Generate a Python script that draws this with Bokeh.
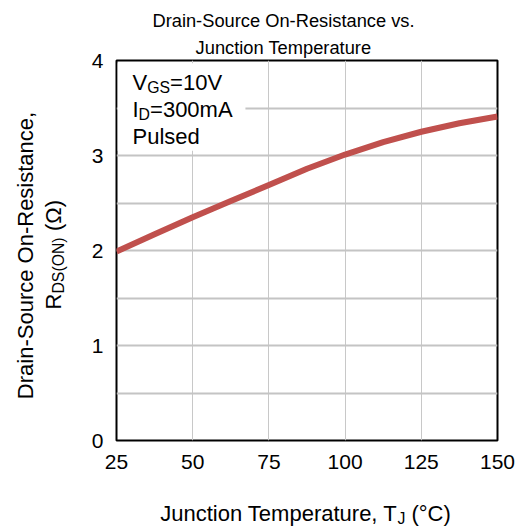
import math
from bokeh.plotting import figure
from bokeh.models import Range1d, FixedTicker, Label, BoxAnnotation
from bokeh.embed import file_html
from bokeh.resources import INLINE

# ---- data ----
temps = [25, 37.5, 50, 62.5, 75, 87.5, 100, 112.5, 125, 137.5, 150]
rds_on = [1.99, 2.17, 2.35, 2.52, 2.69, 2.86, 3.01, 3.14, 3.25, 3.34, 3.41]
x_ticks = [25, 50, 75, 100, 125, 150]
y_ticks = [0, 1, 2, 3, 4]
y_grid = [0.5, 1, 1.5, 2, 2.5, 3, 3.5]
x_grid = [50, 75, 100, 125]
title_lines = ["Drain-Source On-Resistance vs.", "Junction Temperature"]

FONT = "Liberation Sans"
W = {' ': 278, ',': 278, '-': 333, '.': 278, '(': 333, ')': 333, '=': 584, '°': 400,
     'Ω': 768, 'A': 667, 'C': 722, 'D': 722, 'G': 778, 'I': 278, 'J': 500, 'N': 722,
     'O': 778, 'P': 667, 'R': 722, 'S': 667, 'T': 611, 'V': 667, 'a': 556, 'c': 500,
     'd': 556, 'e': 556, 'i': 222, 'l': 222, 'm': 833, 'n': 556, 'o': 556, 'p': 556,
     'r': 333, 's': 500, 't': 278, 'u': 556, 'v': 500}
KERN = {('T', 'e'): -111}
SHIFT = 0.3  # empirical baseline correction (fraction of font size)
SUB = 0.72
DROP = 2.5


def tw(s, size):
    w = sum(W.get(c, 556) for c in s)
    w += sum(KERN.get((a, b), 0) for a, b in zip(s, s[1:]))
    return w / 1000.0 * size


p = figure(width=524, height=529, output_backend="svg", toolbar_location=None,
           x_range=Range1d(25, 150), y_range=Range1d(0, 4),
           min_border_left=116, min_border_right=27, min_border_top=60,
           min_border_bottom=89)
p.background_fill_color = "white"
p.border_fill_color = "white"
p.outline_line_color = "black"
p.outline_line_width = 2
p.outline_line_alpha = 1

for ax in (p.xaxis[0], p.yaxis[0]):
    ax.axis_line_color = None
    ax.major_tick_line_color = None
    ax.minor_tick_line_color = None
    ax.major_tick_out = 0
    ax.major_tick_in = 0
    ax.minor_tick_out = 0
    ax.major_label_text_font = FONT
    ax.major_label_text_font_size = "21px"
    ax.major_label_text_color = "black"
p.xaxis.ticker = FixedTicker(ticks=x_ticks)
p.yaxis.ticker = FixedTicker(ticks=y_ticks)
p.yaxis.major_label_standoff = 13
p.xaxis.major_label_standoff = 14

p.ygrid.ticker = FixedTicker(ticks=y_grid)
p.xgrid.ticker = FixedTicker(ticks=x_grid)
p.ygrid.grid_line_color = "#c4c4c4"
p.ygrid.grid_line_width = 2
p.xgrid.grid_line_color = "#c8c8c8"
p.xgrid.grid_line_width = 1

p.line(temps, rds_on, line_color="#c0504d", line_width=6)

# white box behind conditions text
p.add_layout(BoxAnnotation(left=25.4, right=67.3, bottom=3.05, top=3.97,
                           fill_color="white", fill_alpha=1, line_color=None))


def lab(x, y, text, size, angle=0.0, align="left", place="center"):
    l = Label(x=x, y=y, x_units="canvas", y_units="canvas", text=text,
              text_font=FONT, text_font_size=f"{size}px", text_color="black",
              angle=angle, text_align=align, text_baseline="alphabetic")
    p.add_layout(l, place)


def rich_h(x, base, parts, size, center=False):
    """parts: list of (text, is_sub, panel) drawn horizontally; base = target baseline."""
    total = sum(tw(t, size * SUB if s else size) for t, s, _ in parts)
    cx = x - total / 2 if center else x
    for t, s, pl in parts:
        sz = size * SUB if s else size
        lead = len(t) - len(t.lstrip(' '))
        cx += tw(' ' * lead, sz)
        t2 = t.lstrip(' ')
        yb = base + (DROP if s else 0) - SHIFT * sz
        lab(cx, yb, t2, round(sz, 1), place=pl)
        cx += tw(t2, sz)


def rich_v(base, yc, parts, size):
    """rotated text reading bottom-to-top, centred at yc; base = target baseline x."""
    total = sum(tw(t, size * SUB if s else size) for t, s, _ in parts)
    cy = yc + total / 2
    for t, s, pl in parts:
        sz = size * SUB if s else size
        lead = len(t) - len(t.lstrip(' '))
        cy -= tw(' ' * lead, sz)
        t2 = t.lstrip(' ')
        xb = base + (DROP if s else 0) - SHIFT * sz
        lab(xb, cy, t2, round(sz, 1), angle=math.pi / 2, place=pl)
        cy -= tw(t2, sz)


# title
lab(283, 25 - SHIFT * 18.3, title_lines[0], 18.3, align="center", place="above")
lab(283, 52 - SHIFT * 18.3, title_lines[1], 18.3, align="center", place="above")

# conditions (inside the frame)
rich_h(132, 89, [("V", False, "center"), ("GS", True, "center"), ("=10V", False, "center")], 22)
rich_h(132, 116, [("I", False, "center"), ("D", True, "center"), ("=300mA", False, "center")], 22)
rich_h(132, 143, [("Pulsed", False, "center")], 22)

# x axis label
rich_h(305, 520, [("Junction Temperature, T", False, "below"), ("J", True, "above"),
                  (" (°C)", False, "below")], 22, center=True)

# y axis label
rich_v(32, 255, [("Drain-Source On-Resistance,", False, "left")], 22)
rich_v(60, 254, [("R", False, "left"), ("DS(ON)", True, "right"), (" (Ω)", False, "left")], 22)

open("out.html", "w").write(file_html(p, INLINE))
